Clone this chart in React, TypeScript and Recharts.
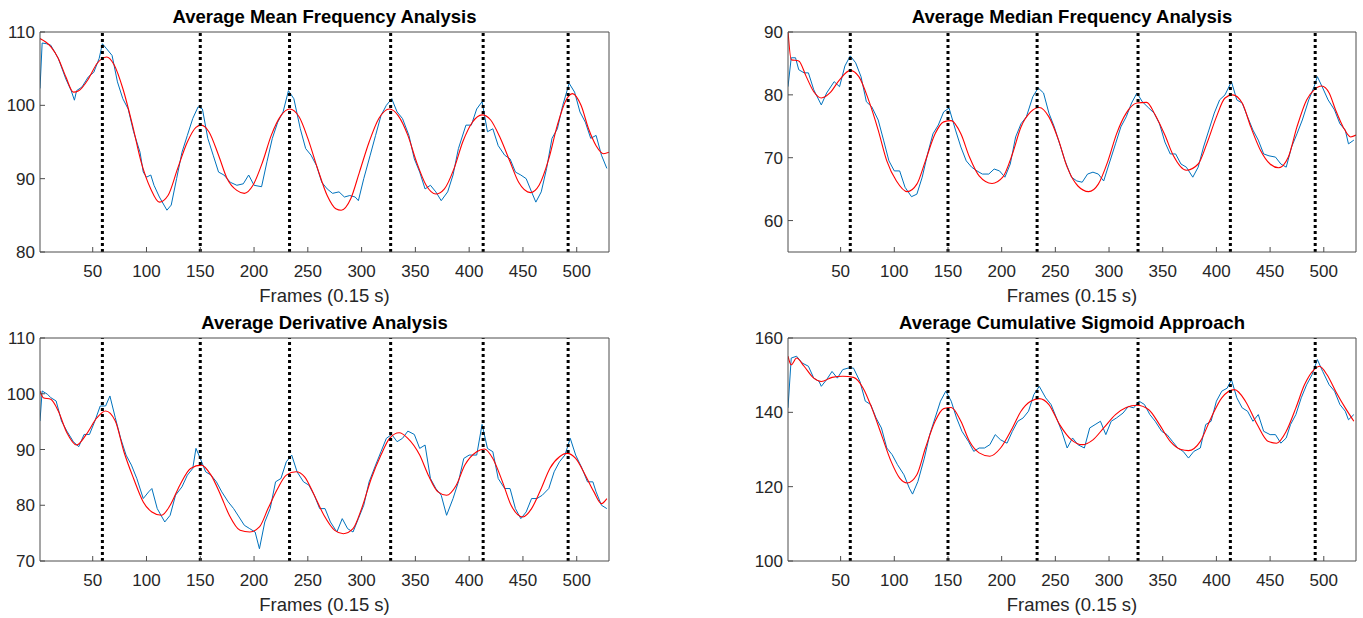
import { LineChart, Line, XAxis, YAxis, ReferenceLine } from "recharts";

type Pt = [number, number];

const frameTicks = [50, 100, 150, 200, 250, 300, 350, 400, 450, 500];
const frameDomain: [number, number] = [1, 530];
const onsetFrames = [59, 150, 233, 327, 413, 492];
const xLabel = "Frames (0.15 s)";

// --- Average Mean Frequency ---
const meanTitle = "Average Mean Frequency Analysis";
const meanTicks = [80, 90, 100, 110];
const meanRaw: Pt[] = [
  [1, 102.3], [3, 108.5], [7, 108.4], [11, 108.2], [18, 106.4], [25, 103.6], [30, 102], [33, 100.7],
  [35, 102], [40, 102.5], [46, 103.9], [51, 104.5], [56, 106.4], [59, 108.4], [63, 107.7], [68, 106.8],
  [73, 103.2], [78, 100.9], [83, 99.5], [88, 96.4], [94, 93.6], [97, 90.9], [100, 90.2], [104, 90.5],
  [107, 89.1], [112, 87.5], [119, 85.7], [123, 86.4], [128, 90], [133, 93.6], [138, 95.9], [143, 98.2],
  [148, 99.8], [152, 99.5], [157, 95.5], [162, 93.2], [167, 90.9], [172, 90.5], [178, 89.5], [184, 89.1],
  [190, 89.3], [195, 90.5], [200, 89.1], [207, 88.9], [212, 92.3], [217, 95.5], [222, 97.7], [227, 99.1],
  [232, 102], [237, 100.9], [243, 96.8], [248, 94.1], [253, 93.2], [258, 91.8], [263, 89.5], [268, 88.6],
  [273, 88], [279, 88.2], [284, 87.5], [289, 87.7], [294, 87.5], [297, 87], [302, 90], [308, 93.2],
  [313, 95.9], [318, 98.6], [323, 100], [328, 100.9], [333, 99.1], [338, 98.2], [344, 95.9], [349, 92.7],
  [354, 90.9], [359, 88.6], [364, 89.1], [369, 88.2], [374, 87], [380, 88.2], [385, 90.5], [390, 94.1],
  [397, 97.3], [402, 97.3], [407, 99.5], [412, 100.5], [417, 96.4], [422, 96.8], [427, 94.5], [433, 93.2],
  [438, 92.7], [443, 90.9], [448, 90.5], [453, 90], [458, 88.2], [462, 86.8], [467, 88.2], [472, 91.4],
  [477, 95.5], [482, 96.8], [487, 100], [493, 103], [498, 101.8], [503, 99.1], [508, 97.7], [513, 95.5],
  [518, 95.9], [523, 93.2], [528, 91.4],
];
const meanFit: Pt[] = [
  [1, 109.1], [11, 108], [18, 106.4], [25, 103.9], [32, 101.8], [37, 102], [46, 103.6], [54, 105.7],
  [63, 106.6], [70, 105.5], [78, 102.3], [87, 97.3], [95, 92.3], [104, 88.6], [112, 86.8], [120, 87.7],
  [129, 91.4], [138, 95], [146, 97], [151, 97.3], [158, 96.4], [167, 93.2], [175, 90], [184, 88.4],
  [191, 88], [199, 89.1], [208, 92.3], [216, 95.9], [225, 98.6], [233, 99.5], [242, 98.4], [250, 95.5],
  [259, 91.4], [268, 87.7], [276, 85.9], [281, 85.7], [290, 87.3], [298, 90.9], [307, 95], [316, 98.2],
  [326, 99.5], [334, 98.6], [343, 95.9], [351, 92.3], [360, 89.1], [369, 87.9], [377, 88.6], [386, 91.4],
  [394, 95], [403, 97.7], [412, 98.7], [420, 98], [429, 95.5], [438, 92.3], [446, 89.5], [457, 88.1],
  [465, 89.1], [474, 92.7], [482, 97.3], [490, 100.7], [496, 101.6], [504, 100], [511, 96.8], [518, 94.5],
  [525, 93.4], [530, 93.6],
];

// --- Average Median Frequency ---
const medianTitle = "Average Median Frequency Analysis";
const medianTicks = [60, 70, 80, 90];
const medianRaw: Pt[] = [
  [1, 81.3], [4, 85.9], [8, 85.9], [11, 84], [16, 83.5], [20, 83.5], [25, 80.8], [32, 78.4],
  [37, 80.3], [44, 82.1], [49, 81.3], [54, 84.6], [59, 86.2], [64, 85.1], [69, 82.9], [74, 78.9],
  [79, 78.1], [85, 76], [90, 72.8], [95, 69.5], [100, 67.9], [105, 67.9], [110, 65.3], [116, 63.8],
  [121, 64.2], [126, 66.9], [131, 70.6], [136, 73.8], [141, 75.2], [146, 77.3], [151, 77.9], [157, 74.4],
  [162, 71.7], [167, 69.5], [172, 68.5], [177, 67.9], [182, 67.4], [188, 67.4], [193, 68.2], [198, 67.9],
  [203, 66.9], [208, 69], [213, 73.3], [218, 75.4], [223, 76.5], [229, 79.7], [234, 81.1], [239, 80.3],
  [244, 77.1], [249, 74.9], [254, 72.2], [259, 69.5], [265, 66.9], [270, 66.3], [275, 66.1], [280, 67.4],
  [285, 67.7], [290, 67.4], [295, 66.3], [300, 69], [306, 72.2], [311, 74.9], [316, 76.5], [321, 78.7],
  [326, 80.3], [331, 78.9], [337, 77.9], [342, 77.1], [347, 75.4], [352, 72.5], [357, 70.6], [362, 70.6],
  [367, 69], [372, 68.5], [378, 66.9], [383, 68.5], [388, 71.7], [393, 74.4], [398, 77.1], [403, 79.2],
  [408, 80], [414, 82.1], [419, 79.2], [424, 78.7], [429, 76.5], [434, 74.4], [439, 72.8], [444, 70.6],
  [449, 70.3], [455, 70.1], [460, 69], [465, 68.5], [470, 71.7], [475, 73.8], [480, 76], [486, 79.2],
  [491, 81.3], [494, 82.9], [499, 81.1], [504, 79.2], [510, 77.6], [515, 75.4], [520, 74.4], [523, 72.2],
  [528, 72.8],
];
const medianFit: Pt[] = [
  [1, 90.2], [4, 85.6], [11, 85.4], [18, 82.9], [25, 80.5], [32, 79.5], [40, 80.3], [49, 82.4],
  [59, 83.9], [67, 82.9], [76, 79.2], [85, 74.4], [93, 69.5], [102, 66.3], [112, 64.6], [121, 65.8],
  [129, 69.5], [138, 73.8], [146, 75.7], [153, 75.9], [162, 73.8], [170, 70.1], [179, 67.1], [191, 65.9],
  [201, 66.9], [210, 70.6], [218, 74.9], [227, 77.3], [235, 78], [244, 76.5], [253, 72.8], [261, 68.5],
  [271, 65.5], [281, 64.6], [290, 65.8], [299, 69.5], [307, 73.8], [316, 77.1], [326, 78.7], [335, 78.8],
  [343, 76.8], [352, 73.6], [360, 70.3], [372, 68], [383, 69], [391, 72.2], [400, 76.5], [408, 79.5],
  [415, 80], [424, 78.7], [432, 74.9], [441, 71.2], [450, 69], [458, 68.4], [467, 70.1], [475, 74.9],
  [484, 79.2], [491, 80.8], [498, 81.4], [505, 80.3], [511, 77.6], [518, 74.9], [525, 73.3], [530, 73.6],
];

// --- Average Derivative ---
const derivTitle = "Average Derivative Analysis";
const derivTicks = [70, 80, 90, 100, 110];
const derivRaw: Pt[] = [
  [1, 95.1], [3, 100.5], [8, 99.9], [11, 99.3], [16, 98.7], [21, 95.1], [26, 93.3], [32, 91.4],
  [37, 90.5], [42, 92.7], [47, 92.7], [52, 95.1], [57, 97.8], [62, 97.8], [66, 99.6], [71, 95.7],
  [76, 92], [81, 89], [86, 87.2], [91, 84.8], [97, 81.2], [102, 82.4], [105, 83], [110, 79.4],
  [117, 77], [122, 78.2], [127, 81.8], [133, 83.3], [138, 85.4], [143, 86.6], [146, 90.2], [150, 88.4],
  [155, 86], [160, 85.4], [165, 84.2], [170, 82.4], [176, 80.6], [181, 79.4], [186, 77.9], [191, 76.4],
  [196, 75.8], [201, 75.2], [205, 72.2], [210, 77], [215, 79.4], [220, 84.2], [225, 84.8], [230, 87.8],
  [235, 89], [240, 86], [246, 84.2], [251, 83.6], [256, 81.8], [261, 79.4], [266, 79.4], [271, 77],
  [277, 75.2], [282, 77.6], [287, 75.8], [292, 75.2], [297, 77.6], [302, 80], [307, 84.2], [313, 87.2],
  [318, 89.6], [323, 92], [328, 92.7], [333, 91.4], [338, 92], [343, 93.3], [349, 92.7], [354, 90.2],
  [359, 90.8], [364, 84.8], [369, 83], [374, 81.8], [379, 78.2], [385, 81.2], [390, 84.2], [395, 88.4],
  [400, 89], [407, 89], [412, 94.5], [417, 90.2], [422, 89.6], [427, 84.8], [433, 83], [438, 83],
  [443, 79.4], [448, 77.6], [453, 78.8], [458, 81.2], [463, 81.2], [468, 81.8], [474, 83], [479, 86],
  [484, 87.8], [489, 89], [494, 92], [499, 89], [505, 86.6], [510, 84.2], [515, 84.2], [518, 82.4],
  [523, 80], [528, 79.4],
];
const derivFit: Pt[] = [
  [1, 100.5], [4, 99.3], [11, 99], [18, 96.9], [26, 93], [35, 90.8], [44, 92.7], [54, 95.7],
  [62, 96.9], [71, 95.1], [79, 89.6], [88, 84.8], [97, 80.6], [105, 78.8], [114, 78.2], [122, 80],
  [131, 83.6], [141, 86.6], [151, 87.2], [160, 85.4], [169, 81.8], [177, 78.2], [187, 75.5], [196, 75.2],
  [205, 76.1], [213, 79.4], [222, 83], [230, 85.4], [239, 86], [247, 85.1], [256, 81.8], [265, 78.2],
  [275, 75.5], [283, 74.9], [292, 75.8], [300, 79.4], [309, 84.8], [318, 89], [326, 92], [335, 93],
  [343, 92], [354, 89], [362, 85.4], [371, 82.4], [379, 81.8], [388, 83.6], [396, 87.2], [407, 89.6],
  [414, 90.1], [422, 88.4], [431, 84.2], [439, 80], [450, 77.9], [458, 79.4], [467, 83], [475, 86.6],
  [484, 88.7], [491, 89.3], [499, 88.4], [508, 85.4], [516, 82.4], [523, 80.3], [528, 81.2],
];

// --- Average Cumulative Sigmoid ---
const sigmoidTitle = "Average Cumulative Sigmoid Approach";
const sigmoidTicks = [100, 120, 140, 160];
const sigmoidRaw: Pt[] = [
  [1, 141.2], [4, 154.6], [9, 155.1], [14, 153.3], [20, 152.4], [25, 149.2], [30, 148.3], [32, 147],
  [37, 148.8], [42, 151], [47, 149.2], [52, 151.5], [57, 151.9], [62, 151.9], [68, 148.3], [73, 143],
  [78, 142.1], [83, 138.5], [88, 135.8], [93, 130.4], [98, 128.6], [103, 125.9], [109, 123.2], [114, 119.6],
  [117, 118], [122, 121.4], [128, 127.7], [133, 134], [138, 138.5], [143, 143], [148, 145.7], [153, 143],
  [158, 138.5], [163, 134.9], [169, 132.2], [174, 129.5], [179, 130.4], [184, 130.4], [189, 131.3], [194, 134],
  [199, 132.6], [205, 131.7], [210, 134.9], [215, 137.6], [220, 138.5], [225, 140.3], [230, 144.8], [235, 147],
  [241, 143.9], [246, 142.1], [251, 138.5], [256, 134.9], [261, 130.4], [266, 133.1], [271, 131.3], [277, 130.4],
  [282, 135.8], [287, 136.7], [292, 137.6], [297, 134], [302, 137.6], [307, 138.5], [313, 139.8], [318, 141.6],
  [323, 141.2], [328, 143], [333, 142.1], [338, 139.4], [343, 137.6], [349, 134.9], [354, 134], [359, 132.2],
  [364, 130.4], [369, 129.5], [374, 127.7], [379, 129.5], [385, 130.4], [390, 136.7], [395, 137.6], [400, 143],
  [405, 145.7], [410, 146.5], [414, 148.8], [419, 143.9], [424, 141.2], [429, 140.3], [434, 137.6], [439, 139.4],
  [444, 134.9], [450, 134], [455, 134], [460, 131.7], [465, 133.1], [469, 136.7], [474, 139.4], [479, 143.9],
  [484, 147.4], [489, 150.1], [494, 154.2], [499, 151], [505, 147.4], [510, 145.7], [515, 142.1], [520, 140.3],
  [523, 138], [528, 139.4],
];
const sigmoidFit: Pt[] = [
  [1, 155.1], [4, 152.8], [9, 154.6], [16, 152.4], [25, 149.2], [32, 148.3], [42, 149.4], [52, 149.7],
  [62, 149.4], [71, 146.5], [79, 141.2], [88, 134], [97, 126.8], [105, 122.3], [112, 121], [121, 123.2],
  [129, 130.4], [138, 137.6], [146, 141], [153, 141.3], [162, 137.6], [170, 132.2], [179, 129.1], [189, 128.2],
  [199, 130.4], [210, 135.8], [218, 140.3], [227, 143], [235, 143.7], [244, 142.1], [254, 136.7], [265, 132.6],
  [275, 131.3], [285, 132.6], [295, 135.8], [306, 139.4], [316, 141.3], [326, 141.9], [337, 140.7], [347, 136.7],
  [357, 132.2], [367, 130], [374, 129.7], [385, 132.2], [395, 138.5], [405, 143.9], [417, 146.1], [427, 143],
  [438, 136.7], [448, 132.2], [456, 131.7], [465, 134.9], [474, 141.2], [482, 147.4], [491, 151.5], [496, 152.4],
  [503, 150.1], [511, 145.7], [520, 141.2], [528, 137.6],
];

const FONT = '"Liberation Sans", Arial, Helvetica, sans-serif';
const INK = "#262626";
const FRAME = "#4d4d4d";
const RAW = "#0072BD";
const FIT = "#FF0000";

const toRows = (pts: Pt[]) => pts.map(([frame, value]) => ({ frame, value }));

type PanelProps = {
  title: string;
  raw: Pt[];
  fit: Pt[];
  yDomain: [number, number];
  yTicks: number[];
  left: number;
  top: number;
  width: number;
  rightPad: number;
  plotHeight: number;
};

const PLOT_TOP = 32;
const Y_AXIS_W = 40;
const PANEL_H = 300;

function Panel({ title, raw, fit, yDomain, yTicks, left, top, width, rightPad, plotHeight }: PanelProps) {
  const xAxisH = PANEL_H - PLOT_TOP - plotHeight;
  const centerX = (Y_AXIS_W + width - rightPad) / 2;
  const tickStyle = { fontSize: 17, fill: INK, fontFamily: FONT };
  return (
    <div style={{ position: "absolute", left, top, width, height: PANEL_H }}>
      <LineChart
        width={width}
        height={PANEL_H}
        margin={{ top: PLOT_TOP - 1, right: rightPad - 1, bottom: 0, left: 0 }}
      >
        <XAxis
          type="number"
          dataKey="frame"
          domain={frameDomain}
          ticks={frameTicks}
          allowDataOverflow
          height={xAxisH}
          tickSize={-5}
          tickMargin={18}
          tick={tickStyle}
          stroke={FRAME}
        />
        {/* box top: ticks only, pointing in */}
        <XAxis
          xAxisId="top"
          orientation="top"
          type="number"
          dataKey="frame"
          domain={frameDomain}
          ticks={frameTicks}
          allowDataOverflow
          height={1}
          tickSize={-5}
          tick={false}
          stroke={FRAME}
        />
        <YAxis
          type="number"
          domain={yDomain}
          ticks={yTicks}
          allowDataOverflow
          width={Y_AXIS_W}
          tickSize={-5}
          tickMargin={10}
          tick={tickStyle}
          stroke={FRAME}
        />
        <YAxis
          yAxisId="right"
          orientation="right"
          type="number"
          domain={yDomain}
          ticks={yTicks}
          allowDataOverflow
          width={1}
          tickSize={-5}
          tick={false}
          stroke={FRAME}
        />
        <Line
          data={toRows(raw)}
          dataKey="value"
          type="linear"
          stroke={RAW}
          strokeWidth={1}
          dot={false}
          isAnimationActive={false}
        />
        <Line
          data={toRows(fit)}
          dataKey="value"
          type="monotone"
          stroke={FIT}
          strokeWidth={1.1}
          dot={false}
          isAnimationActive={false}
        />
        {onsetFrames.map((f) => (
          <ReferenceLine key={f} x={f} stroke="#000" strokeWidth={3} strokeDasharray="3 3" />
        ))}
      </LineChart>
      <svg
        width={width}
        height={PANEL_H + 20}
        style={{ position: "absolute", left: 0, top: 0, pointerEvents: "none", overflow: "visible" }}
      >
        <text x={centerX} y={23} textAnchor="middle" fontFamily={FONT} fontSize={18.5} fontWeight="bold" fill="#000">
          {title}
        </text>
        <text
          x={centerX}
          y={PLOT_TOP + plotHeight + 49.5}
          textAnchor="middle"
          fontFamily={FONT}
          fontSize={18.5}
          fill={INK}
        >
          {xLabel}
        </text>
      </svg>
    </div>
  );
}

export default function App() {
  return (
    <div
      style={{
        position: "absolute",
        left: 0,
        top: 0,
        width: 1363,
        height: 618,
        background: "#fff",
        overflow: "hidden",
      }}
    >
      <Panel title={meanTitle} raw={meanRaw} fit={meanFit} yDomain={[80, 110]} yTicks={meanTicks}
        left={0} top={0} width={620} rightPad={11} plotHeight={220} />
      <Panel title={medianTitle} raw={medianRaw} fit={medianFit} yDomain={[55, 90]} yTicks={medianTicks}
        left={748} top={0} width={615} rightPad={7} plotHeight={220} />
      <Panel title={derivTitle} raw={derivRaw} fit={derivFit} yDomain={[70, 110]} yTicks={derivTicks}
        left={0} top={306} width={620} rightPad={11} plotHeight={223} />
      <Panel title={sigmoidTitle} raw={sigmoidRaw} fit={sigmoidFit} yDomain={[100, 160]} yTicks={sigmoidTicks}
        left={748} top={306} width={615} rightPad={7} plotHeight={223} />
    </div>
  );
}
